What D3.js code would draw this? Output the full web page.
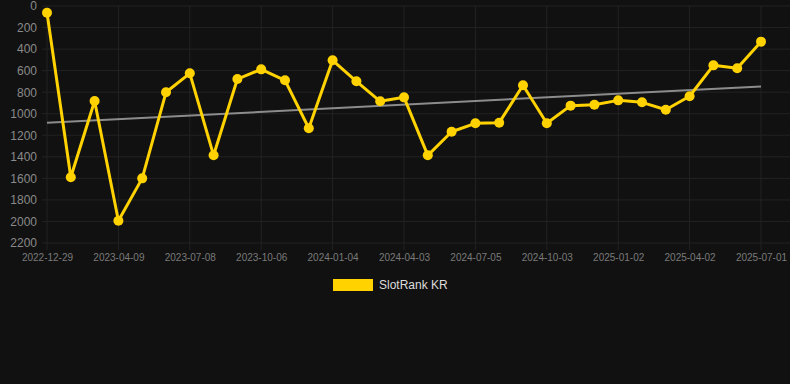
<!DOCTYPE html>
<html>
<head>
<meta charset="utf-8">
<script src="https://cdn.jsdelivr.net/npm/d3@7"></script>
<style>
  html, body { margin: 0; padding: 0; background: #111111; }
  #chart { width: 790px; height: 384px; }
</style>
</head>
<body>
<div id="chart"></div>
<script>
// dates of each sample (only every 3rd one is labelled on the axis)
const dates = [
  "2022-12-29", "2023-02-01", "2023-03-07", "2023-04-09", "2023-05-09", "2023-06-08",
  "2023-07-08", "2023-08-07", "2023-09-06", "2023-10-06", "2023-11-05", "2023-12-05",
  "2024-01-04", "2024-02-03", "2024-03-04", "2024-04-03", "2024-05-04", "2024-06-04",
  "2024-07-05", "2024-08-04", "2024-09-03", "2024-10-03", "2024-11-02", "2024-12-03",
  "2025-01-02", "2025-02-01", "2025-03-03", "2025-04-02", "2025-05-02", "2025-06-01",
  "2025-07-01"
];
const ranks = [
  62, 1590, 882, 1993, 1600, 801, 625, 1386, 678, 588, 690, 1135,
  504, 699, 885, 848, 1386, 1167, 1089, 1083, 736, 1089, 925, 916,
  876, 894, 963, 838, 551, 578, 331
];
const yTicks = [0, 200, 400, 600, 800, 1000, 1200, 1400, 1600, 1800, 2000, 2200];
const seriesName = "SlotRank KR";

const W = 790, H = 384;
const margin = { top: 6, right: 29, bottom: 141, left: 47 };
const width = W - margin.left - margin.right;
const height = H - margin.top - margin.bottom;

const svg = d3.select("#chart")
  .append("svg")
  .attr("width", W)
  .attr("height", H)
  .style("font-family", "'Liberation Sans', Arial, sans-serif");

const g = svg.append("g")
  .attr("transform", `translate(${margin.left},${margin.top})`);

let x = d3.scalePoint()
  .domain(dates)
  .range([0, width]);

let y = d3.scaleLinear()
  .domain([0, 2200])
  .range([0, height]);

const shown = dates.filter((d, i) => i % 3 === 0);

// horizontal grid
g.append("g")
  .selectAll("line")
  .data(yTicks)
  .enter()
  .append("line")
  .attr("x1", -5)
  .attr("x2", W - margin.left)
  .attr("y1", d => y(d))
  .attr("y2", d => y(d))
  .style("stroke", "#232323")
  .style("stroke-width", 1);

// vertical grid
g.append("g")
  .selectAll("line")
  .data(shown)
  .enter()
  .append("line")
  .attr("x1", d => x(d))
  .attr("x2", d => x(d))
  .attr("y1", 0)
  .attr("y2", height + 7)
  .style("stroke", "#232323")
  .style("stroke-width", 1);

// y axis labels
g.append("g")
  .call(d3.axisLeft(y).tickValues(yTicks).tickFormat(d3.format("d")).tickSize(0).tickPadding(10))
  .call(a => a.select(".domain").remove())
  .selectAll("text")
  .style("font-size", "12px")
  .style("font-family", "'Liberation Sans', Arial, sans-serif")
  .style("fill", "#8a8a8a");

// x axis labels
g.append("g")
  .attr("transform", `translate(0,${height})`)
  .call(d3.axisBottom(x).tickValues(shown).tickSize(0).tickPadding(11))
  .call(a => a.select(".domain").remove())
  .selectAll("text")
  .style("font-size", "10px")
  .style("font-family", "'Liberation Sans', Arial, sans-serif")
  .style("fill", "#7a7a7a");

// trend line (least squares over the samples)
const idx = ranks.map((d, i) => i);
const mx = d3.mean(idx), my = d3.mean(ranks);
const slope = d3.sum(idx, i => (i - mx) * (ranks[i] - my)) / d3.sum(idx, i => (i - mx) * (i - mx));
const trend = idx.map(i => my + slope * (i - mx));

const line = d3.line()
  .x((d, i) => x(dates[i]))
  .y(d => y(d));

g.append("path")
  .datum([trend[0], trend[trend.length - 1]])
  .attr("d", d3.line().x((d, i) => x(dates[i === 0 ? 0 : dates.length - 1])).y(d => y(d)))
  .style("fill", "none")
  .style("stroke", "#8c8c8c")
  .style("stroke-width", 2);

// series
const gold = "#ffd200";
g.append("path")
  .datum(ranks)
  .attr("d", line)
  .style("fill", "none")
  .style("stroke", gold)
  .style("stroke-width", 3)
  .style("stroke-linejoin", "round");

g.selectAll("circle")
  .data(ranks)
  .enter()
  .append("circle")
  .attr("cx", (d, i) => x(dates[i]))
  .attr("cy", d => y(d))
  .attr("r", 5)
  .style("fill", gold);

// legend
const legend = svg.append("g").attr("transform", "translate(333,279)");
legend.append("rect")
  .attr("width", 40)
  .attr("height", 12)
  .style("fill", gold);
legend.append("text")
  .attr("x", 46)
  .attr("y", 10)
  .text(seriesName)
  .style("font-size", "12px")
  .style("fill", "#dcdcdc");
</script>
</body>
</html>
